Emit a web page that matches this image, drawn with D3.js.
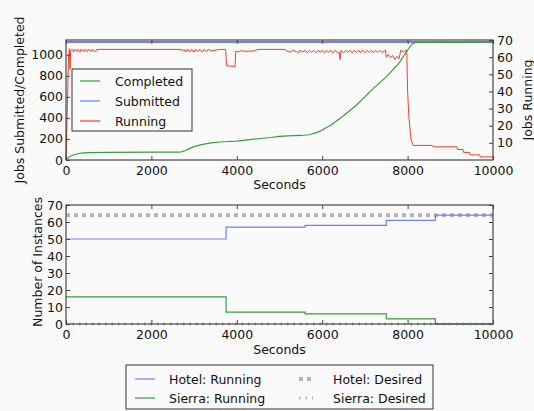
<!DOCTYPE html>
<html>
<head>
<meta charset="utf-8">
<script src="https://cdn.jsdelivr.net/npm/d3@7"></script>
<style>
  body { margin: 0; background: #fafafa; }
  text { font-family: "DejaVu Sans", sans-serif; fill: #111; }
</style>
</head>
<body>
<script>
// top panel data: [seconds, value]
const submitted = [[0, 1120], [10000, 1120]];
const completed = [[0, 0], [50, 20], [100, 35], [200, 52], [300, 62], [400, 67], [600, 71], [1000, 73],
  [2000, 74], [2600, 75], [2700, 78], [2800, 90], [2900, 110], [3000, 127], [3200, 148], [3400, 163],
  [3600, 171], [3800, 176], [4000, 180], [4200, 189], [4500, 202], [4800, 214], [5000, 224], [5200, 230],
  [5500, 233], [5700, 240], [5900, 265], [6000, 285], [6200, 330], [6500, 420], [6800, 520], [7000, 600],
  [7200, 680], [7500, 790], [7800, 920], [8000, 1045], [8100, 1100], [8200, 1118], [10000, 1120]];
const running = [[0, 0], [40, 40], [60, 60], [80, 65], [95, 53], [110, 64], [150, 64.5], [180, 63],
  [200, 64.5], [260, 63.5], [280, 64.5], [330, 63], [350, 64.5], [420, 63.5], [440, 64.5], [500, 63.2],
  [520, 64.5], [600, 63.5], [620, 64.5], [700, 63.2], [720, 64.5], [800, 64.5], [2700, 64.5], [2720, 63.5],
  [2760, 64.5], [2800, 63], [2830, 64.5], [2900, 63.3], [2930, 64.5], [3000, 63], [3030, 64.5],
  [3100, 63.4], [3130, 64.5], [3200, 63], [3230, 64.5], [3300, 63.3], [3330, 64.5], [3400, 63.6],
  [3600, 64.5], [3740, 64.5], [3760, 55], [3960, 54.5], [3975, 63.5], [4050, 63], [4100, 63.8],
  [4200, 63.4], [4400, 63.6], [4500, 64.5], [5130, 64.5], [5150, 63.8], [5250, 62.9], [5300, 64],
  [5400, 63.2], [5450, 62.5], [5470, 64], [5550, 63], [5600, 64], [5650, 62.6], [5700, 64], [5750, 62.8],
  [5800, 64], [5850, 62.5], [5900, 64], [5950, 62.8], [6000, 64], [6050, 62.6], [6100, 64], [6150, 62.9],
  [6200, 64], [6250, 62.5], [6300, 64], [6350, 62.8], [6400, 62.6], [6420, 58.5], [6440, 64], [6500, 62.6],
  [6550, 64], [6600, 62.8], [6650, 64], [6700, 62.5], [6750, 64], [6800, 62.8], [6850, 64], [6900, 62.6],
  [6950, 64], [7000, 62.6], [7050, 64], [7100, 62.8], [7150, 64], [7200, 62.5], [7250, 64], [7300, 62.8],
  [7350, 64], [7400, 62.6], [7480, 64], [7500, 60], [7550, 61.5], [7600, 59.5], [7650, 61], [7700, 58.5],
  [7750, 60.5], [7800, 59], [7840, 64], [7900, 63], [7960, 64], [7980, 64], [8000, 40], [8030, 25],
  [8080, 12], [8130, 8.5], [8580, 8.5], [8600, 7.7], [9160, 7.7], [9170, 6.1], [9300, 6.1], [9310, 4.4],
  [9450, 4.4], [9460, 3], [9690, 3], [9700, 1.8], [10000, 1.8]];

// bottom panel data
const stepTimes = [0, 3750, 5600, 7500, 8650, 10000];
const hotelRunning = [50, 57, 58, 61, 64, 64];
const sierraRunning = [16, 7, 6, 3, 0, 0];
const hotelDesired = [64, 64, 64, 64, 64, 64];
const sierraDesired = [0, 0, 0, 0, 0, 0];

const xTicks = [0, 2000, 4000, 6000, 8000, 10000];
const leftTicks = [0, 200, 400, 600, 800, 1000];
const rightTicks = [10, 20, 30, 40, 50, 60, 70];
const instTicks = [0, 10, 20, 30, 40, 50, 60, 70];

const W = 534, H = 411;
const blue = '#6e7dff', green = '#35a035', red = '#ff3a2a', gray = '#b4b4b4';

const svg = d3.select('body').append('svg').attr('width', W).attr('height', H);

const left = 66, right = 493;
const x = d3.scaleLinear().domain([0, 10000]).range([left, right]);

// ---------- top panel ----------
const t0 = 40, t1 = 160;
const yL = d3.scaleLinear().domain([0, 1140]).range([t1, t0]);
const yR = d3.scaleLinear().domain([0, 70]).range([t1, t0]);

const line = (sx, sy) => d3.line().x(d => sx(d[0])).y(d => sy(d[1]));

svg.append('path').datum(running).attr('d', line(x, yR))
  .attr('fill', 'none').attr('stroke', red).attr('stroke-width', 1);
svg.append('path').datum(submitted).attr('d', line(x, yL))
  .attr('fill', 'none').attr('stroke', blue).attr('stroke-width', 2);
svg.append('path').datum(completed).attr('d', line(x, yL))
  .attr('fill', 'none').attr('stroke', green).attr('stroke-width', 1.2);

function frame(y0, y1) {
  svg.append('rect').attr('x', left).attr('y', y0).attr('width', right - left).attr('height', y1 - y0)
    .attr('fill', 'none').attr('stroke', '#222').attr('stroke-width', 1);
}
frame(t0, t1);

// axes, ticks inside
function styleAxis(g) {
  g.select('.domain').remove();
  g.selectAll('.tick line').attr('stroke', '#444');
  g.selectAll('.tick text').style('font-size', '12.5px');
}
svg.append('g').attr('transform', `translate(0,${t1})`)
  .call(d3.axisBottom(x).tickValues(xTicks).tickSizeInner(-4).tickSizeOuter(0).tickPadding(6).tickFormat(d3.format('d')))
  .call(styleAxis);
svg.append('g').attr('transform', `translate(0,${t0})`)
  .call(d3.axisTop(x).tickValues(xTicks).tickSizeInner(-4).tickSizeOuter(0).tickFormat(''))
  .call(styleAxis);
svg.append('g').attr('transform', `translate(${left},0)`)
  .call(d3.axisLeft(yL).tickValues(leftTicks).tickSizeInner(-4).tickSizeOuter(0).tickPadding(3).tickFormat(d3.format('d')))
  .call(styleAxis);
svg.append('g').attr('transform', `translate(${right},0)`)
  .call(d3.axisRight(yR).tickValues(rightTicks).tickSizeInner(-4).tickSizeOuter(0).tickPadding(4))
  .call(styleAxis);

svg.append('text').attr('x', (left + right) / 2).attr('y', 189).attr('text-anchor', 'middle')
  .style('font-size', '12.5px').text('Seconds');
svg.append('text').attr('transform', 'translate(19,100) rotate(-90)').attr('text-anchor', 'middle')
  .attr('dominant-baseline', 'central').style('font-size', '12.5px').text('Jobs Submitted/Completed');
svg.append('text').attr('transform', 'translate(527,100) rotate(-90)').attr('text-anchor', 'middle')
  .attr('dominant-baseline', 'central').style('font-size', '12.5px').text('Jobs Running');

// top legend
const lg = svg.append('g');
lg.append('rect').attr('x', 72).attr('y', 69).attr('width', 120).attr('height', 62)
  .attr('fill', '#fafafa').attr('stroke', '#333').attr('stroke-width', 1);
[['Completed', green, 81], ['Submitted', blue, 101], ['Running', red, 121]].forEach(([name, c, yy]) => {
  lg.append('line').attr('x1', 80).attr('x2', 100).attr('y1', yy).attr('y2', yy).attr('stroke', c).attr('stroke-width', 1.2);
  lg.append('text').attr('x', 115).attr('y', yy).attr('dominant-baseline', 'central').style('font-size', '12.5px').text(name);
});

// ---------- bottom panel ----------
const b0 = 205, b1 = 324;
const yB = d3.scaleLinear().domain([0, 70]).range([b1, b0]);
const step = d3.line().curve(d3.curveStepAfter).x((d, i) => x(stepTimes[i])).y(d => yB(d));

svg.append('path').datum(hotelDesired).attr('d', step).attr('fill', 'none')
  .attr('stroke', gray).attr('stroke-width', 4).attr('stroke-dasharray', '4,4');
svg.append('path').datum(hotelRunning).attr('d', step).attr('fill', 'none')
  .attr('stroke', blue).attr('stroke-width', 1.2);
svg.append('path').datum(sierraRunning).attr('d', step).attr('fill', 'none')
  .attr('stroke', green).attr('stroke-width', 1.2);
svg.append('path').datum(sierraDesired).attr('d', step).attr('fill', 'none')
  .attr('stroke', gray).attr('stroke-width', 3).attr('stroke-dasharray', '1.5,5');
frame(b0, b1);

svg.append('g').attr('transform', `translate(0,${b1})`)
  .call(d3.axisBottom(x).tickValues(xTicks).tickSizeInner(-4).tickSizeOuter(0).tickPadding(6).tickFormat(d3.format('d')))
  .call(styleAxis);
svg.append('g').attr('transform', `translate(0,${b0})`)
  .call(d3.axisTop(x).tickValues(xTicks).tickSizeInner(-4).tickSizeOuter(0).tickFormat(''))
  .call(styleAxis);
svg.append('g').attr('transform', `translate(${left},0)`)
  .call(d3.axisLeft(yB).tickValues(instTicks).tickSizeInner(-4).tickSizeOuter(0).tickPadding(3))
  .call(styleAxis);
svg.append('g').attr('transform', `translate(${right},0)`)
  .call(d3.axisRight(yB).tickValues(instTicks).tickSizeInner(-4).tickSizeOuter(0).tickFormat(''))
  .call(styleAxis);

svg.append('text').attr('x', (left + right) / 2).attr('y', 354).attr('text-anchor', 'middle')
  .style('font-size', '12.5px').text('Seconds');
svg.append('text').attr('transform', 'translate(37,262) rotate(-90)').attr('text-anchor', 'middle')
  .attr('dominant-baseline', 'central').style('font-size', '12.5px').text('Number of Instances');

// bottom legend
const bl = svg.append('g');
bl.append('rect').attr('x', 126).attr('y', 365).attr('width', 307).attr('height', 44)
  .attr('fill', '#fafafa').attr('stroke', '#333').attr('stroke-width', 1);
const entries = [
  ['Hotel: Running', blue, 1.2, null, 135, 169, 379],
  ['Sierra: Running', green, 1.2, null, 135, 169, 398],
  ['Hotel: Desired', gray, 4, '4,4', 299, 333, 379],
  ['Sierra: Desired', gray, 3, '1.5,5', 299, 333, 398]
];
entries.forEach(([name, c, sw, dash, lx, tx, yy]) => {
  const l = bl.append('line').attr('x1', lx).attr('x2', lx + (dash ? 14 : 20)).attr('y1', yy).attr('y2', yy)
    .attr('stroke', c).attr('stroke-width', sw);
  if (dash) l.attr('stroke-dasharray', dash);
  bl.append('text').attr('x', tx).attr('y', yy).attr('dominant-baseline', 'central').style('font-size', '12.5px').text(name);
});
</script>
</body>
</html>
